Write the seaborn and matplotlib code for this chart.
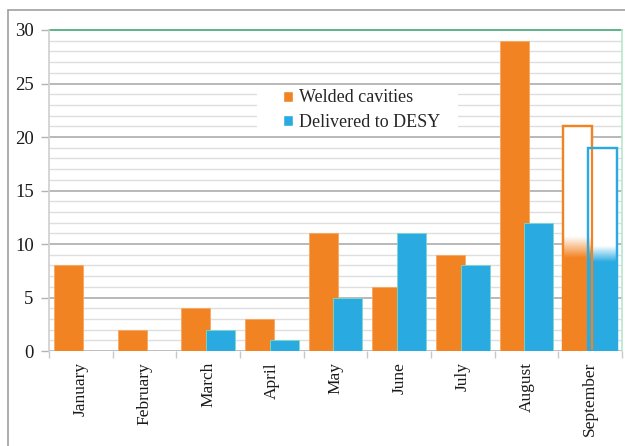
import numpy as np
import pandas as pd
import matplotlib
matplotlib.use("Agg")
import matplotlib.pyplot as plt
import seaborn as sns
from matplotlib.lines import Line2D
from matplotlib.patches import Rectangle

months = ["January", "February", "March", "April", "May", "June", "July", "August", "September"]
welded = [8, 2, 4, 3, 11, 6, 9, 29, 21]
delivered = [0, 0, 2, 1, 5, 11, 8, 12, 19]
series_names = ["Welded cavities", "Delivered to DESY"]
# September: partially completed (solid part, then fading)
sept_solid = [8.7, 8.3]
sept_fade_top = [10.7, 9.8]

orange = "#F28322"
blue = "#29ABE2"

sns.set_theme(style="white")
plt.rcParams["font.family"] = ["Liberation Serif", "DejaVu Serif"]

df = pd.DataFrame({
    "month": months * 2,
    "value": welded + delivered,
    "series": [series_names[0]] * len(months) + [series_names[1]] * len(months),
})

fig = plt.figure(figsize=(6.25, 4.46), dpi=100)
ax = fig.add_axes([49 / 625, 1 - 351 / 446, (622 - 49) / 625, (351 - 30) / 446])

sns.barplot(data=df, x="month", y="value", hue="series", order=months,
            hue_order=series_names, palette=[orange, blue], width=0.9,
            ax=ax, legend=False, saturation=1)

# adjust bar geometry (Excel-like overlap)
bw = 0.455
offs = [-0.195, 0.195]
cols = [orange, blue]
edges = ["#f7a860", "#7fd8c8"]
n = len(months)
for k, cont in enumerate(ax.containers):
    for i, p in enumerate(cont.patches):
        c = i + offs[k]
        p.set_x(c - bw / 2)
        p.set_width(bw)
        p.set_edgecolor(edges[k])
        p.set_linewidth(0.6)
        p.set_zorder(2)
        if i == n - 1:
            # September: outlined bar with gradient fill at the bottom
            p.set_facecolor("white")
            p.set_edgecolor(cols[k])
            p.set_linewidth(1.6)
            top = p.get_height()
            res = 400
            yy = np.linspace(0, top, res)
            alpha = np.clip((sept_fade_top[k] - yy) / (sept_fade_top[k] - sept_solid[k]), 0, 1)
            rgb = matplotlib.colors.to_rgb(cols[k])
            img = np.zeros((res, 1, 4))
            img[:, 0, :3] = rgb
            img[:, 0, 3] = alpha
            im = ax.imshow(img, extent=[c - bw / 2, c + bw / 2, 0, top], origin="lower",
                           aspect="auto", zorder=2.5, interpolation="bilinear")
            im.set_clip_path(p)
            ax.add_patch(Rectangle((c - bw / 2, 0), bw, top, fill=False,
                                   edgecolor=cols[k], linewidth=1.6, zorder=3))

ax.set_xlim(-0.5, n - 0.5)
ax.set_ylim(0, 30)
ax.set_xlabel("")
ax.set_ylabel("")

# gridlines
ax.set_axisbelow(True)
for v in range(0, 31):
    if v == 30:
        ax.axhline(v, color="#4fae7e", lw=1.3, zorder=0.6, clip_on=False)
    elif v % 5 == 0:
        ax.axhline(v, color="#b3b3b3", lw=1.3, zorder=0.5)
    else:
        ax.axhline(v, color="#dedede", lw=1.0, zorder=0.4)

for s in ["top", "bottom"]:
    ax.spines[s].set_visible(False)
ax.spines["left"].set_color("#d0d0d0")
ax.spines["right"].set_color("#b8e6cc")
ax.spines["right"].set_linewidth(1.2)

ax.set_yticks(range(0, 31, 5))
ax.tick_params(axis="y", length=6, color="#b3b3b3", width=1, labelsize=13.5, pad=5,
               left=True, labelcolor="#1a1a1a")
ax.set_xticks(np.arange(n))
ax.set_xticklabels(months, rotation=90, fontsize=12.5, color="#1a1a1a")
ax.tick_params(axis="x", length=0, pad=8)
ax.set_xticks(np.arange(-0.5, n, 1.0), minor=True)
ax.tick_params(axis="x", which="minor", length=5, color="#c8c8c8", width=1, bottom=True)
ax.axhline(0, color="#cfcfcf", lw=1.0, zorder=0.7)

# legend with white box
ax.add_patch(Rectangle((0.363, 0.682), 0.351, 0.137, transform=ax.transAxes,
                       facecolor="white", edgecolor="none", zorder=0.9))
handles = [Rectangle((0, 0), 1, 1, facecolor=orange), Rectangle((0, 0), 1, 1, facecolor=blue)]
ax.legend(handles, series_names, loc="center left", bbox_to_anchor=(0.408, 0.7505),
          frameon=False, fontsize=13, handlelength=0.55, handleheight=0.55,
          handletextpad=0.35, labelspacing=0.4, borderaxespad=0, borderpad=0)

# outer frame (top and left)
fig.add_artist(Line2D([8 / 625, 1], [1 - 10 / 446, 1 - 10 / 446], color="#a0a0a0", lw=1.2))
fig.add_artist(Line2D([8 / 625, 8 / 625], [0, 1 - 10 / 446], color="#a0a0a0", lw=1.2))

fig.savefig("out.png", dpi=100, facecolor="white")
